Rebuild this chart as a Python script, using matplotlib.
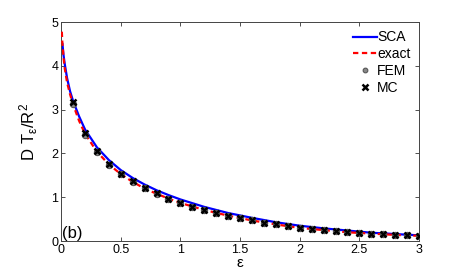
import numpy as np
import matplotlib
matplotlib.use("Agg")
import matplotlib.pyplot as plt

plt.rcParams['font.family'] = ['Liberation Sans', 'DejaVu Sans']
plt.rcParams['mathtext.fontset'] = 'custom'
plt.rcParams['mathtext.rm'] = 'Liberation Sans'

# curves
eps_exact = [0.006, 0.01, 0.02, 0.03, 0.05, 0.075, 0.1, 0.15, 0.2, 0.3, 0.4, 0.5, 0.6, 0.7,
             0.8, 0.9, 1.0, 1.2, 1.4, 1.6, 1.8, 2.0, 2.2, 2.4, 2.6, 2.8, 3.0]
exact = [4.78, 4.55, 4.2, 3.95, 3.62, 3.35, 3.12, 2.75, 2.45, 2.04, 1.75, 1.53, 1.35, 1.2,
         1.08, 0.97, 0.87, 0.71, 0.58, 0.47, 0.38, 0.30, 0.25, 0.20, 0.17, 0.14, 0.12]

eps_sca = [0.011, 0.02, 0.03, 0.05, 0.075, 0.1, 0.15, 0.2, 0.3, 0.4, 0.5, 0.6, 0.7,
           0.8, 0.9, 1.0, 1.2, 1.4, 1.6, 1.8, 2.0, 2.2, 2.4, 2.6, 2.8, 3.0]
sca = [4.5, 4.25, 4.05, 3.72, 3.42, 3.2, 2.85, 2.55, 2.14, 1.85, 1.62, 1.44, 1.29,
       1.16, 1.05, 0.95, 0.78, 0.64, 0.53, 0.43, 0.35, 0.29, 0.24, 0.19, 0.16, 0.13]

eps_pts = [0.1, 0.2, 0.3, 0.4, 0.5, 0.6, 0.7, 0.8, 0.9, 1.0, 1.1, 1.2, 1.3, 1.4, 1.5,
           1.6, 1.7, 1.8, 1.9, 2.0, 2.1, 2.2, 2.3, 2.4, 2.5, 2.6, 2.7, 2.8, 2.9, 3.0]
fem = [3.12, 2.42, 2.04, 1.74, 1.53, 1.35, 1.2, 1.08, 0.97, 0.87, 0.78, 0.71, 0.64, 0.58, 0.52,
       0.47, 0.42, 0.38, 0.34, 0.30, 0.27, 0.25, 0.22, 0.20, 0.18, 0.17, 0.15, 0.14, 0.13, 0.12]
mc = [3.17, 2.46, 2.06, 1.76, 1.54, 1.36, 1.21, 1.09, 0.97, 0.87, 0.78, 0.71, 0.64, 0.58, 0.52,
      0.47, 0.42, 0.38, 0.34, 0.30, 0.27, 0.25, 0.22, 0.20, 0.18, 0.17, 0.15, 0.14, 0.13, 0.12]

fig = plt.figure(figsize=(4.63, 2.79), dpi=100)
ax = fig.add_axes([0.132, 0.136, 0.773, 0.785])

ax.plot(eps_sca, sca, color='#0000ff', lw=1.6, label='SCA', zorder=2)
ax.plot(eps_exact, exact, color='#ff0000', lw=1.6, ls=(0, (2.4, 1.6)), label='exact', zorder=3)
ax.plot(eps_pts, fem, ls='none', marker='o', ms=4.5, mfc='#888888', mec='#555555',
        mew=0.8, label='FEM', zorder=4)
ax.plot(eps_pts, mc, ls='none', marker='x', ms=5, mec='black', mew=1.8, label='MC', zorder=5)

ax.set_xlim(0, 3)
ax.set_ylim(0, 5)
ax.set_xticks([0, 0.5, 1, 1.5, 2, 2.5, 3])
ax.set_xticklabels(['0', '0.5', '1', '1.5', '2', '2.5', '3'])
ax.set_yticks([0, 1, 2, 3, 4, 5])
ax.tick_params(direction='in', top=True, right=True, length=3, width=0.6,
               labelsize=9, pad=2, colors='#333333', labelcolor='black')
for s in ax.spines.values():
    s.set_linewidth(0.7)
    s.set_color('#444444')

ax.set_xlabel('ε', fontsize=11, labelpad=0)
ax.set_ylabel(r'$\mathregular{D\ T_{ε}/R^2}$', fontsize=12, labelpad=8)
ax.text(0.008, 0.06, '(b)', fontsize=12)

leg = ax.legend(loc='upper right', frameon=False, fontsize=10, handlelength=1.7,
                handletextpad=0.05, labelspacing=0.2, borderaxespad=0.2, markerscale=0.75)

fig.savefig('out.png', dpi=100)
